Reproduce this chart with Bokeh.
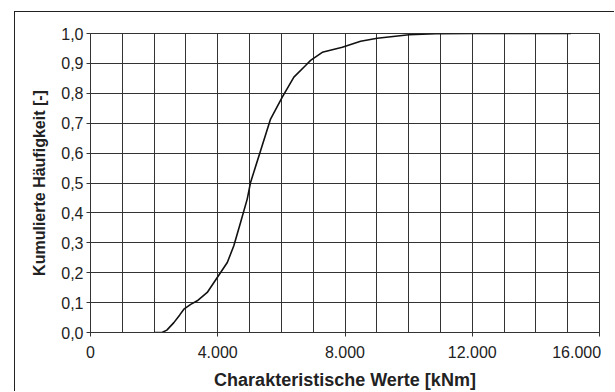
from bokeh.plotting import figure
from bokeh.models import FixedTicker, CustomJSTickFormatter, Range1d
from bokeh.embed import file_html
from bokeh.resources import INLINE

# Data
werte_knm = [2000, 2250, 2400, 2620, 2800, 2935, 3150, 3355, 3670, 3985, 4300, 4505,
             4717, 4928, 5031, 5346, 5660, 6028, 6393, 6761, 6918, 7286, 7915, 8491,
             9015, 10010, 10850, 12000, 15100]
kum_haeufigkeit = [0.0, 0.0, 0.008, 0.033, 0.058, 0.078, 0.094, 0.106, 0.134, 0.184,
                   0.234, 0.29, 0.368, 0.447, 0.502, 0.608, 0.714, 0.787, 0.854, 0.893,
                   0.910, 0.937, 0.954, 0.974, 0.984, 0.996, 0.999, 1.0, 1.0]
x_label_ticks = [0, 4000, 8000, 12000, 16000]
x_grid_ticks = list(range(0, 16001, 1000))
y_ticks = [0.0, 0.1, 0.2, 0.3, 0.4, 0.5, 0.6, 0.7, 0.8, 0.9, 1.0]

p = figure(width=600, height=380, output_backend="svg", toolbar_location=None,
           x_range=Range1d(0, 16000), y_range=Range1d(0, 1))
p.styles = {"margin-left": "14px", "margin-top": "11px",
            "border-left": "1px solid #222", "border-top": "1px solid #222"}
p.min_border_left = 75
p.min_border_right = 16
p.min_border_top = 21
p.min_border_bottom = 58
p.background_fill_color = "white"
p.border_fill_color = "white"
p.outline_line_color = "#333333"
p.outline_line_width = 1

p.line(werte_knm, kum_haeufigkeit, line_color="#111111", line_width=1.6)

p.xaxis.ticker = FixedTicker(ticks=x_label_ticks)
p.xgrid.ticker = FixedTicker(ticks=x_grid_ticks)
p.yaxis.ticker = FixedTicker(ticks=y_ticks)
p.ygrid.ticker = FixedTicker(ticks=y_ticks)
# the last label sits shifted inward, like in the original (padded with no-break spaces)
p.xaxis.formatter = CustomJSTickFormatter(code="""
if (tick == 0) { return '0'; }
const s = (tick/1000).toFixed(3);
if (tick == 16000) { return s + '\\u00a0'.repeat(3); }
return s;
""")
p.yaxis.formatter = CustomJSTickFormatter(code="return tick.toFixed(1).replace('.', ',');")

for g in (p.xgrid, p.ygrid):
    g.grid_line_color = "#333333"
    g.grid_line_width = 1
    g.grid_line_alpha = 1.0

for ax in (p.xaxis, p.yaxis):
    ax.axis_line_color = "#333333"
    ax.major_tick_line_color = "#333333"
    ax.major_tick_out = 4
    ax.major_tick_in = 0
    ax.minor_tick_line_color = None
    ax.major_label_text_font = "Liberation Sans"
    ax.major_label_text_font_size = "16px"
    ax.major_label_text_color = "#222222"
    ax.axis_label_text_font = "Liberation Sans"
    ax.axis_label_text_font_style = "bold"
    ax.axis_label_text_color = "#222222"

p.xaxis.axis_label_text_font_size = "18px"
p.yaxis.axis_label_text_font_size = "16px"
p.xaxis.axis_label = "Charakteristische Werte [kNm]"
p.yaxis.axis_label = "Kumulierte Häufigkeit [-]"
p.xaxis.major_label_standoff = 7
p.xaxis.axis_label_standoff = 6
p.yaxis.major_label_standoff = 3
p.yaxis.axis_label_standoff = 10

open("out.html", "w").write(file_html(p, INLINE))
